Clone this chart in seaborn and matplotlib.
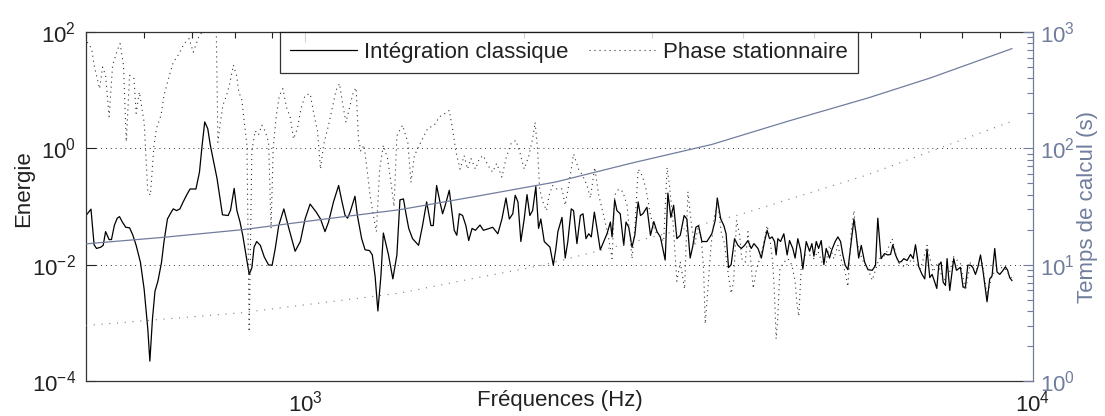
import matplotlib
matplotlib.use("Agg")
import matplotlib.pyplot as plt
import matplotlib.ticker as mticker
import pandas as pd
import seaborn as sns

# Energie - integration classique (Hz, energie)
freq_classique = [
    500, 508, 513, 517, 524, 528, 532, 538, 542, 547, 552, 556, 561, 567, 574, 580, 586, 594,
    601, 608, 612, 617, 622, 628, 635, 640, 647, 654, 659, 666, 673, 680, 688, 695, 708, 716,
    722, 728, 735, 741, 749, 757, 763, 770, 784, 790, 799, 806, 814, 821,
    838, 845, 851, 858, 868, 879, 891, 901, 910, 920, 935, 950, 969, 985, 1000, 1016, 1036,
    1050, 1065, 1077, 1094, 1112, 1124, 1135, 1144, 1153, 1171, 1180, 1196, 1209, 1226, 1237,
    1248, 1259, 1271, 1281, 1302, 1320, 1337,
    1350, 1365, 1376, 1388, 1405, 1432, 1450, 1469, 1489, 1500, 1516, 1532, 1545, 1558, 1578,
    1603, 1616, 1629, 1646, 1663, 1678, 1696, 1714, 1739, 1758, 1792, 1810, 1840, 1864, 1888,
    1908, 1929, 1944, 1961, 1979, 2000, 2018, 2036, 2054, 2075, 2093, 2108, 2131, 2170, 2193, 2211,
    2225, 2254, 2277, 2296, 2321, 2338, 2363, 2389, 2409, 2432, 2453, 2473, 2497, 2518, 2544,
    2599, 2627, 2641, 2663, 2682, 2710, 2740, 2760, 2784, 2813, 2838, 2868, 2889, 2911, 2949,
    2982, 3014, 3044, 3077, 3124, 3151, 3181, 3209, 3242, 3277, 3317, 3346, 3381, 3407, 3443,
    3472, 3509, 3565, 3621,
    3660, 3684, 3724, 3761, 3788, 3817, 3849, 3891, 3932, 3975, 4016, 4059, 4101, 4137, 4190,
    4235, 4278, 4313, 4346, 4382, 4415, 4438, 4462, 4500, 4547, 4595, 4630, 4678, 4712, 4753,
    4794, 4829, 4881, 4933, 4969, 5001, 5038, 5076, 5118, 5161, 5199, 5255, 5293, 5349, 5395,
    5441, 5481, 5521, 5569, 5628, 5676, 5718, 5762, 5809, 5872, 5934,
    6015, 6077, 6121, 6185, 6252, 6319, 6373, 6419, 6474, 6543, 6592, 6646, 6716, 6789, 6846,
    6896, 6968, 7041, 7102, 7153, 7215, 7268, 7330, 7377, 7424, 7478, 7527, 7582, 7621, 7686,
    7783, 7850, 7950, 8016, 8077, 8137, 8207, 8266, 8337, 8399, 8471, 8542, 8604, 8648, 8722,
    8786, 8861, 8926, 9003, 9097, 9165, 9231, 9290, 9360,
]
energie_classique = [
    0.07, 0.09, 0.022, 0.019, 0.020, 0.0215, 0.037, 0.027, 0.027, 0.0475, 0.063, 0.067, 0.054,
    0.044, 0.043, 0.032, 0.0215, 0.011, 0.0038, 0.00079, 0.00022, 0.00116, 0.0035, 0.0053, 0.011,
    0.025, 0.061, 0.078, 0.091, 0.085, 0.091, 0.12, 0.16, 0.20, 0.20, 0.39, 1.13, 2.84, 2.18,
    1.13, 0.58, 0.30, 0.156, 0.072, 0.07, 0.087, 0.205, 0.085, 0.054, 0.032,
    0.0068, 0.0088, 0.020, 0.025, 0.0215, 0.0135, 0.0099, 0.0098, 0.019, 0.047, 0.091, 0.042,
    0.017, 0.025, 0.061, 0.11, 0.080, 0.061, 0.037, 0.054, 0.12, 0.23, 0.12, 0.070, 0.063, 0.080,
    0.15, 0.070, 0.028, 0.018, 0.0175, 0.0147, 0.0063, 0.0016, 0.0063, 0.035, 0.0147, 0.0057,
    0.0147,
    0.13, 0.135, 0.075, 0.042, 0.028, 0.0215, 0.047, 0.12, 0.047, 0.047, 0.23, 0.12, 0.075,
    0.105, 0.19, 0.039, 0.032, 0.075, 0.070, 0.047, 0.026, 0.042, 0.039, 0.048, 0.039, 0.042,
    0.044, 0.034, 0.061, 0.14, 0.061, 0.075, 0.156, 0.12, 0.025, 0.061, 0.16, 0.070, 0.085,
    0.22, 0.042, 0.061, 0.025, 0.020, 0.0098, 0.019,
    0.037, 0.065, 0.013, 0.025, 0.091, 0.085, 0.023, 0.070, 0.075, 0.028, 0.034, 0.030, 0.080,
    0.042, 0.018, 0.034, 0.054, 0.030, 0.13, 0.085, 0.075, 0.0215, 0.054, 0.044, 0.020, 0.032,
    0.12, 0.070, 0.075, 0.097, 0.032, 0.055, 0.037, 0.030, 0.012, 0.17, 0.065, 0.105, 0.028,
    0.032, 0.070, 0.061, 0.013, 0.020, 0.044, 0.047, 0.025, 0.025, 0.034,
    0.058, 0.14, 0.061, 0.047, 0.034, 0.0089, 0.010, 0.028, 0.0215, 0.019, 0.0215, 0.026, 0.019,
    0.023, 0.019, 0.013, 0.025, 0.039, 0.028, 0.030, 0.025, 0.0147, 0.028, 0.025, 0.034, 0.0147,
    0.026, 0.019, 0.013, 0.028, 0.018, 0.0084, 0.025, 0.017, 0.023, 0.014, 0.025, 0.019, 0.026,
    0.010, 0.019, 0.013, 0.018, 0.025, 0.030, 0.025, 0.0147, 0.0098, 0.0082, 0.025, 0.061, 0.032,
    0.013, 0.0215, 0.011, 0.0082,
    0.0080, 0.0097, 0.063, 0.0127, 0.0155, 0.0147, 0.015, 0.022, 0.0147, 0.011, 0.0113, 0.0127,
    0.0118, 0.015, 0.0127, 0.022, 0.0092, 0.0068, 0.0057, 0.0185, 0.0060, 0.0068, 0.0050, 0.0039,
    0.0098, 0.0111, 0.0050, 0.0044, 0.0127, 0.0036, 0.0127, 0.0080, 0.0090, 0.0041, 0.0041,
    0.0098, 0.0098, 0.0090, 0.0068, 0.0090, 0.0147, 0.0075, 0.0038, 0.0023, 0.0057, 0.0064,
    0.019, 0.0075, 0.0068, 0.0080, 0.0092, 0.0080, 0.0060, 0.0053,
]

# Energie - phase stationnaire
freq_phase = [
    502, 509, 513, 522, 527, 532, 538, 544, 552, 557, 563, 568, 574, 582, 586, 592, 601, 608,
    613, 620, 625, 634, 640, 651, 659, 671, 682, 693, 702, 715, 730, 741, 755, 759, 765, 771,
    780, 788, 797, 805, 811, 819,
    823, 832, 838, 845, 854, 863, 872, 881, 891, 898, 904, 913, 922, 932, 944, 954, 964, 976,
    987, 1000, 1016, 1029, 1040, 1050, 1060, 1077, 1092, 1103, 1115, 1127, 1138, 1150, 1165,
    1175, 1184, 1193, 1205, 1218, 1228, 1240, 1253, 1266, 1281, 1298, 1312, 1325, 1337,
    1361, 1384, 1398, 1413, 1442, 1474, 1505, 1530, 1558, 1578, 1596, 1612, 1633, 1654, 1672,
    1690, 1714, 1736, 1758, 1783, 1810, 1833, 1864, 1888, 1918, 1948, 1973, 2000, 2030, 2054,
    2070, 2086, 2100, 2122, 2146, 2164, 2187,
    2218, 2254, 2277, 2306, 2338, 2375, 2406, 2440, 2466, 2500, 2532, 2572, 2608, 2641, 2663,
    2697, 2732, 2769, 2813, 2838, 2868, 2905, 2940, 2982, 3027, 3077, 3109, 3143, 3167, 3200,
    3242, 3277, 3322, 3357, 3392, 3429, 3465, 3502, 3528, 3546, 3576, 3612,
    3652, 3690, 3728, 3769, 3805, 3849, 3880, 3915, 3954, 3980, 4025, 4059, 4093, 4127, 4170,
    4214, 4260, 4313, 4351, 4391, 4415, 4438, 4462, 4490, 4547, 4606, 4665, 4712, 4742, 4768,
    4803, 4865, 4933, 5001, 5065, 5130, 5199, 5255, 5327, 5395, 5464, 5521, 5569, 5628, 5676,
    5725, 5798, 5872, 5934,
    6015, 6141, 6272, 6405, 6523, 6662, 6824, 7006, 7153, 7291, 7400, 7527, 7662, 7783, 7950,
    8077, 8207, 8380, 8515, 8648, 8786, 8926, 9117, 9360,
]
energie_phase = [
    67, 52, 27, 10.6, 25, 18, 3.5, 27, 48, 63, 27, 1.3, 18, 15.8, 4.0, 9.3, 2.8, 0.18, 0.156,
    1.13, 2.2, 3.7, 8.1, 18, 30, 42, 63, 77, 45, 85, 120, 200, 120, 1.27, 2.8, 5.5, 8.1, 13, 27,
    18, 9.3, 6.7,
    3.7, 1.13, 0.0007, 0.9, 2.0, 1.7, 2.5, 2.0, 1.27, 0.042, 1.0, 3.7, 8.1, 10.6, 4.8, 3.5, 1.45,
    2.2, 4.8, 8.1, 8.7, 3.7, 2.0, 0.44, 1.13, 2.5, 5.5, 10, 13, 5.5, 2.8, 4.8, 9.3, 11, 1.45, 0.9,
    1.13, 0.39, 0.156, 0.075, 0.037, 0.44, 1.13, 0.67, 0.26, 0.10, 1.65,
    2.5, 1.27, 0.26, 0.75, 1.27, 2.2, 2.5, 3.5, 4.0, 4.5, 2.0, 0.85, 0.44, 0.75, 0.44, 0.67, 0.44,
    0.67, 0.75, 0.51, 0.39, 0.55, 0.32, 0.67, 1.2, 1.37, 0.85, 0.44, 0.75, 1.45, 2.8, 1.0, 0.20,
    0.12, 0.085, 0.156, 0.23,
    0.20, 0.20, 0.105, 0.26, 0.80, 0.44, 0.34, 0.23, 0.14, 0.47, 0.156, 0.070, 0.032, 0.0127,
    0.156, 0.20, 0.18, 0.105, 0.0127, 0.042, 0.44, 0.34, 0.20, 0.070, 0.037, 0.030, 0.025, 0.47,
    0.23, 0.061, 0.0052, 0.011, 0.0038, 0.18, 0.054, 0.0215, 0.042, 0.028, 0.0084, 0.00096,
    0.0038, 0.0215,
    0.070, 0.12, 0.037, 0.023, 0.0084, 0.0032, 0.0052, 0.058, 0.032, 0.0127, 0.011, 0.037,
    0.0127, 0.0039, 0.0084, 0.0127, 0.0215, 0.047, 0.028, 0.011, 0.0030, 0.00053, 0.0013, 0.0084,
    0.011, 0.0127, 0.0098, 0.0052, 0.0020, 0.0013, 0.0084, 0.0147, 0.0147, 0.0127, 0.017, 0.011,
    0.011, 0.0215, 0.0127, 0.0215, 0.011, 0.0075, 0.0042, 0.037, 0.085, 0.025, 0.0147, 0.0098,
    0.0084,
    0.0054, 0.0124, 0.0147, 0.028, 0.011, 0.0091, 0.0124, 0.0084, 0.0215, 0.0075, 0.011, 0.0052,
    0.0065, 0.0137, 0.0104, 0.0036, 0.011, 0.0084, 0.011, 0.0030, 0.0065, 0.0084, 0.0091, 0.0057,
]

# Temps de calcul (s)
freq_temps_classique = [500, 640, 821, 1050, 1350, 1719, 2211, 2813, 3621, 4606, 5934, 7231, 9360]
temps_classique = [15.1, 17.2, 20.0, 24.4, 29.7, 38.7, 51.4, 74.8, 108, 171, 271, 403, 720]
freq_temps_phase = [500, 814, 1350, 1719, 2120, 3954, 5934, 7231, 9360]
temps_phase = [3.0, 3.85, 5.7, 7.7, 9.9, 26.9, 59.4, 94, 171]

bleu = "#717d9d"
sombre = "#222222"
taille = 16

sns.set_style("white")
plt.rcParams["font.family"] = ["Liberation Sans", "DejaVu Sans"]
plt.rcParams["font.size"] = taille

df_classique = pd.DataFrame({"freq": freq_classique, "energie": energie_classique})
df_phase = pd.DataFrame({"freq": freq_phase, "energie": energie_phase})
df_tc = pd.DataFrame({"freq": freq_temps_classique, "temps": temps_classique})
df_tp = pd.DataFrame({"freq": freq_temps_phase, "temps": temps_phase})

fig = plt.figure(figsize=(11.05, 4.16), dpi=100)
ax = fig.add_axes([0.0778, 0.0841, 0.857, 0.839])
ax.set_xscale("log")
ax.set_yscale("log")

sns.lineplot(data=df_classique, x="freq", y="energie", ax=ax, color="black",
             lw=0.9, label="Intégration classique", legend=False)
sns.lineplot(data=df_phase, x="freq", y="energie", ax=ax, color="#333333",
             lw=0.8, linestyle=(0, (1, 3.5)), label="Phase stationnaire", legend=False)

ax2 = ax.twinx()
ax2.set_yscale("log")
sns.lineplot(data=df_tc, x="freq", y="temps", ax=ax2, color=bleu, lw=0.9, legend=False)
sns.lineplot(data=df_tp, x="freq", y="temps", ax=ax2, color=bleu, lw=0.8,
             linestyle=(0, (1, 6)), legend=False)

# axes gauche / bas
ax.set_xlim(500, 10000)
ax.set_ylim(1e-4, 1e2)
ax.xaxis.set_major_locator(mticker.LogLocator(base=10))
ax.xaxis.set_minor_locator(mticker.LogLocator(base=10, subs=range(2, 10)))
ax.xaxis.set_minor_formatter(mticker.NullFormatter())
ax.yaxis.set_major_locator(mticker.FixedLocator([1e-4, 1e-2, 1, 1e2]))
ax.yaxis.set_major_formatter(mticker.LogFormatterSciNotation())
ax.yaxis.set_minor_locator(mticker.NullLocator())
ax.yaxis.grid(True, linestyle=(0, (1, 4)), color="#333333", lw=0.7)
ax.tick_params(axis="both", which="both", direction="in", top=True, right=False,
               colors=sombre, labelsize=taille)
ax.tick_params(which="major", length=7, width=0.8)
ax.tick_params(which="minor", length=4, width=0.8)
ax.tick_params(axis="x", pad=7)
ax.tick_params(axis="y", pad=7)
for s in ["left", "bottom", "top"]:
    ax.spines[s].set_color("#333333")
    ax.spines[s].set_linewidth(0.9)
ax.spines["right"].set_visible(False)

ax.set_xlabel("Fréquences (Hz)", fontsize=taille, color=sombre)
ax.xaxis.set_label_coords(0.5, -0.025)
ax.set_ylabel("Energie", fontsize=taille, color=sombre)
ax.yaxis.set_label_coords(-0.055, 0.55)

# axe droit
ax2.set_ylim(1, 1000)
ax2.yaxis.set_major_locator(mticker.LogLocator(base=10))
ax2.yaxis.set_minor_locator(mticker.LogLocator(base=10, subs=range(2, 10)))
ax2.yaxis.set_minor_formatter(mticker.NullFormatter())
ax2.tick_params(axis="y", which="both", direction="in", colors=bleu, labelsize=taille, pad=5)
ax2.tick_params(axis="y", which="major", length=7, width=0.8)
ax2.tick_params(axis="y", which="minor", length=4, width=0.8)
for s in ["left", "bottom", "top"]:
    ax2.spines[s].set_visible(False)
ax2.spines["right"].set_color(bleu)
ax2.spines["right"].set_linewidth(0.9)
ax2.set_xlabel("")
ax2.set_ylabel("Temps de calcul (s)", fontsize=taille, color=bleu)
ax2.yaxis.set_label_coords(1.047, 0.5)

handles = ax.get_lines()[:2]
leg = ax2.legend(handles, ["Intégration classique", "Phase stationnaire"],
                 loc="upper center", bbox_to_anchor=(0.51, 1.0), ncol=2, fontsize=taille,
                 frameon=True, fancybox=False, borderaxespad=0, handlelength=3.0,
                 handletextpad=0.35, columnspacing=0.9, borderpad=0.45)
leg.get_frame().set_edgecolor("black")
leg.get_frame().set_linewidth(0.9)
for t in leg.get_texts():
    t.set_color(sombre)

plt.savefig("out.png", dpi=100)
plt.close()
